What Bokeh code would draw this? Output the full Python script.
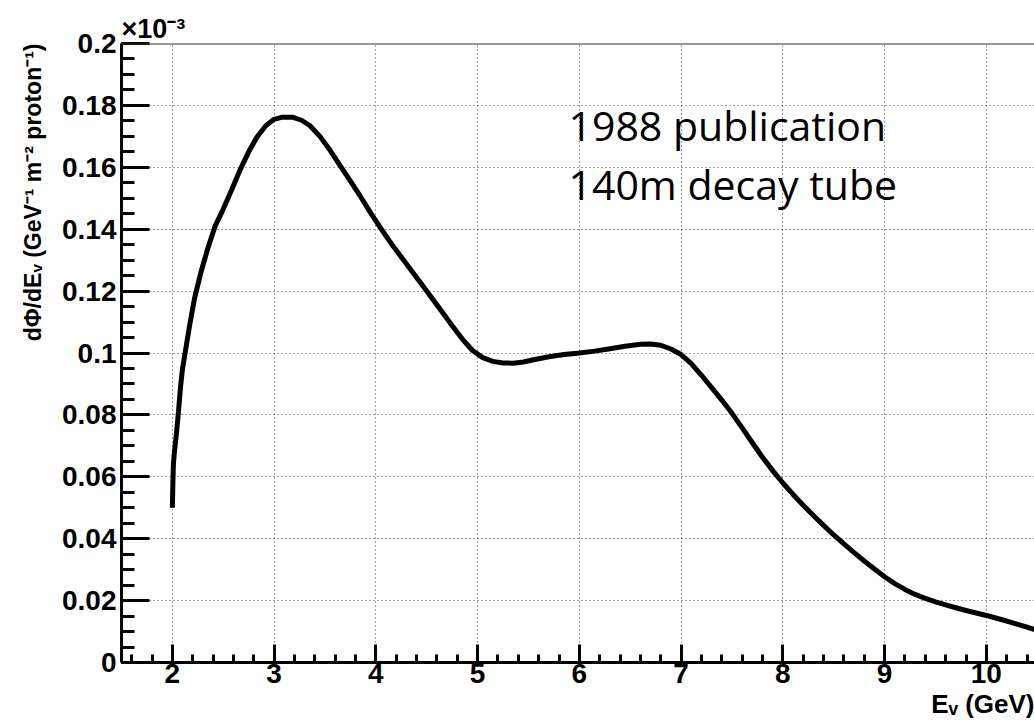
from bokeh.plotting import figure
from bokeh.models import (Range1d, SingleIntervalTicker, CustomJSTickFormatter,
                          Label, Span, Title)
from bokeh.embed import file_html
from bokeh.resources import INLINE

# ---- data (flux in units of 1e-3) ----
energy = [2.00, 2.005, 2.01, 2.02, 2.04, 2.06, 2.08, 2.10, 2.13, 2.17, 2.22, 2.28,
          2.35, 2.42, 2.50, 2.58, 2.67, 2.75, 2.83, 2.92, 3.00, 3.08, 3.18, 3.27,
          3.35, 3.45, 3.55, 3.65, 3.75, 3.85, 3.95, 4.05, 4.15, 4.25, 4.35, 4.45,
          4.55, 4.65, 4.75, 4.85, 4.95, 5.05, 5.15, 5.25, 5.35, 5.45, 5.55, 5.70,
          5.85, 6.00, 6.15, 6.30, 6.45, 6.60, 6.70, 6.80, 6.90, 7.00, 7.10, 7.20,
          7.30, 7.40, 7.50, 7.60, 7.70, 7.80, 7.90, 8.00, 8.10, 8.20, 8.30, 8.40,
          8.50, 8.60, 8.70, 8.80, 8.90, 9.00, 9.10, 9.20, 9.30, 9.40, 9.50, 9.60,
          9.70, 9.80, 9.90, 10.00, 10.10, 10.20, 10.30, 10.40, 10.50]
flux = [0.050, 0.058, 0.064, 0.068, 0.074, 0.081, 0.089, 0.095, 0.101, 0.109, 0.118, 0.126,
        0.134, 0.141, 0.1465, 0.1525, 0.1595, 0.165, 0.1697, 0.1735, 0.1755, 0.1762, 0.1762, 0.1752,
        0.1735, 0.170, 0.1655, 0.1605, 0.1555, 0.1505, 0.1452, 0.1402, 0.1354, 0.131, 0.1266, 0.1222,
        0.1178, 0.1133, 0.1088, 0.1045, 0.1008, 0.0985, 0.0973, 0.0968, 0.0967, 0.0971, 0.0978, 0.0988,
        0.0995, 0.100, 0.1006, 0.1014, 0.1022, 0.1028, 0.1029, 0.1025, 0.1013, 0.0995, 0.0966, 0.0928,
        0.0888, 0.0848, 0.0805, 0.0758, 0.0710, 0.0663, 0.0620, 0.0580, 0.0543, 0.0508, 0.0475, 0.0443,
        0.0412, 0.0383, 0.0355, 0.0328, 0.0302, 0.0277, 0.0255, 0.0236, 0.0220, 0.0207, 0.0196, 0.0186,
        0.0177, 0.0168, 0.0160, 0.0152, 0.0143, 0.0134, 0.0124, 0.0114, 0.0104]

x_range = (1.5, 10.473)
y_range = (0.0, 0.2)
annotation_lines = ["1988 publication", "140m decay tube"]
x_title = "E\u1d65 (GeV)"
y_title = "d\u03a6/dE\u1d65 (GeV\u207b\u00b9 m\u207b\u00b2 proton\u207b\u00b9)"
exponent = "\u00d710\u207b\u00b3"

# ---- figure ----
FL, FT, FB = 121, 43, 662   # frame left/top/bottom in canvas px
p = figure(width=1034, height=727, output_backend="svg", toolbar_location=None,
           x_range=Range1d(*x_range), y_range=Range1d(*y_range),
           min_border_left=FL, min_border_right=0, min_border_top=FT,
           min_border_bottom=727 - FB)
p.outline_line_color = None
p.background_fill_color = "white"
p.border_fill_color = "white"

p.xaxis.ticker = SingleIntervalTicker(interval=1, num_minor_ticks=5)
p.yaxis.ticker = SingleIntervalTicker(interval=0.02, num_minor_ticks=4)
p.yaxis.formatter = CustomJSTickFormatter(code="return (Math.round(tick*1000)/1000).toString();")
p.xaxis.formatter = CustomJSTickFormatter(code="return Math.round(tick).toString();")

for ax in (p.xaxis[0], p.yaxis[0]):
    ax.axis_line_width = 3
    ax.axis_line_color = "black"
    ax.major_tick_line_width = 3
    ax.minor_tick_line_width = 3
    ax.major_tick_line_color = "black"
    ax.minor_tick_line_color = "black"
    ax.major_tick_out = 0
    ax.minor_tick_out = 0
    ax.major_label_text_font = "Liberation Sans"
    ax.major_label_text_font_style = "bold"
    ax.major_label_text_font_size = "28px"
    ax.major_label_text_color = "black"
p.xaxis.major_tick_in = 18
p.xaxis.minor_tick_in = 8
p.yaxis.major_tick_in = 28
p.yaxis.minor_tick_in = 13
p.xaxis.major_label_standoff = 1
p.yaxis.major_label_standoff = 5

for g in (p.xgrid[0], p.ygrid[0]):
    g.grid_line_color = "#444444"
    g.grid_line_width = 1
    g.grid_line_dash = "1 3"

p.add_layout(Span(location=y_range[1], dimension="width", line_color="#333333", line_width=2))

p.line(energy, flux, line_color="black", line_width=5)

# ---- annotation text inside the frame ----
for i, (txt, base) in enumerate(zip(annotation_lines, (143, 202))):
    p.add_layout(Label(x=568 - FL, y=FB - base + 19, x_units="screen", y_units="screen",
                       text=txt, text_font="Open Sans", text_font_size="41px",
                       text_baseline="alphabetic", text_color="black"))

# ---- axis titles as side-panel titles ----
def ttl(text, align, size, standoff, **kw):
    return Title(text=text, align=align, text_font="Liberation Sans",
                 text_font_style="bold", text_font_size=f"{size}px",
                 text_color="black", standoff=standoff, **kw)

p.add_layout(ttl(y_title, "right", 23, 27), "left")
p.add_layout(ttl(x_title, "right", 26, 2, vertical_align="bottom"), "below")
p.add_layout(ttl(exponent, "left", 27, 0), "above")

open("out.html", "w").write(file_html(p, INLINE))
